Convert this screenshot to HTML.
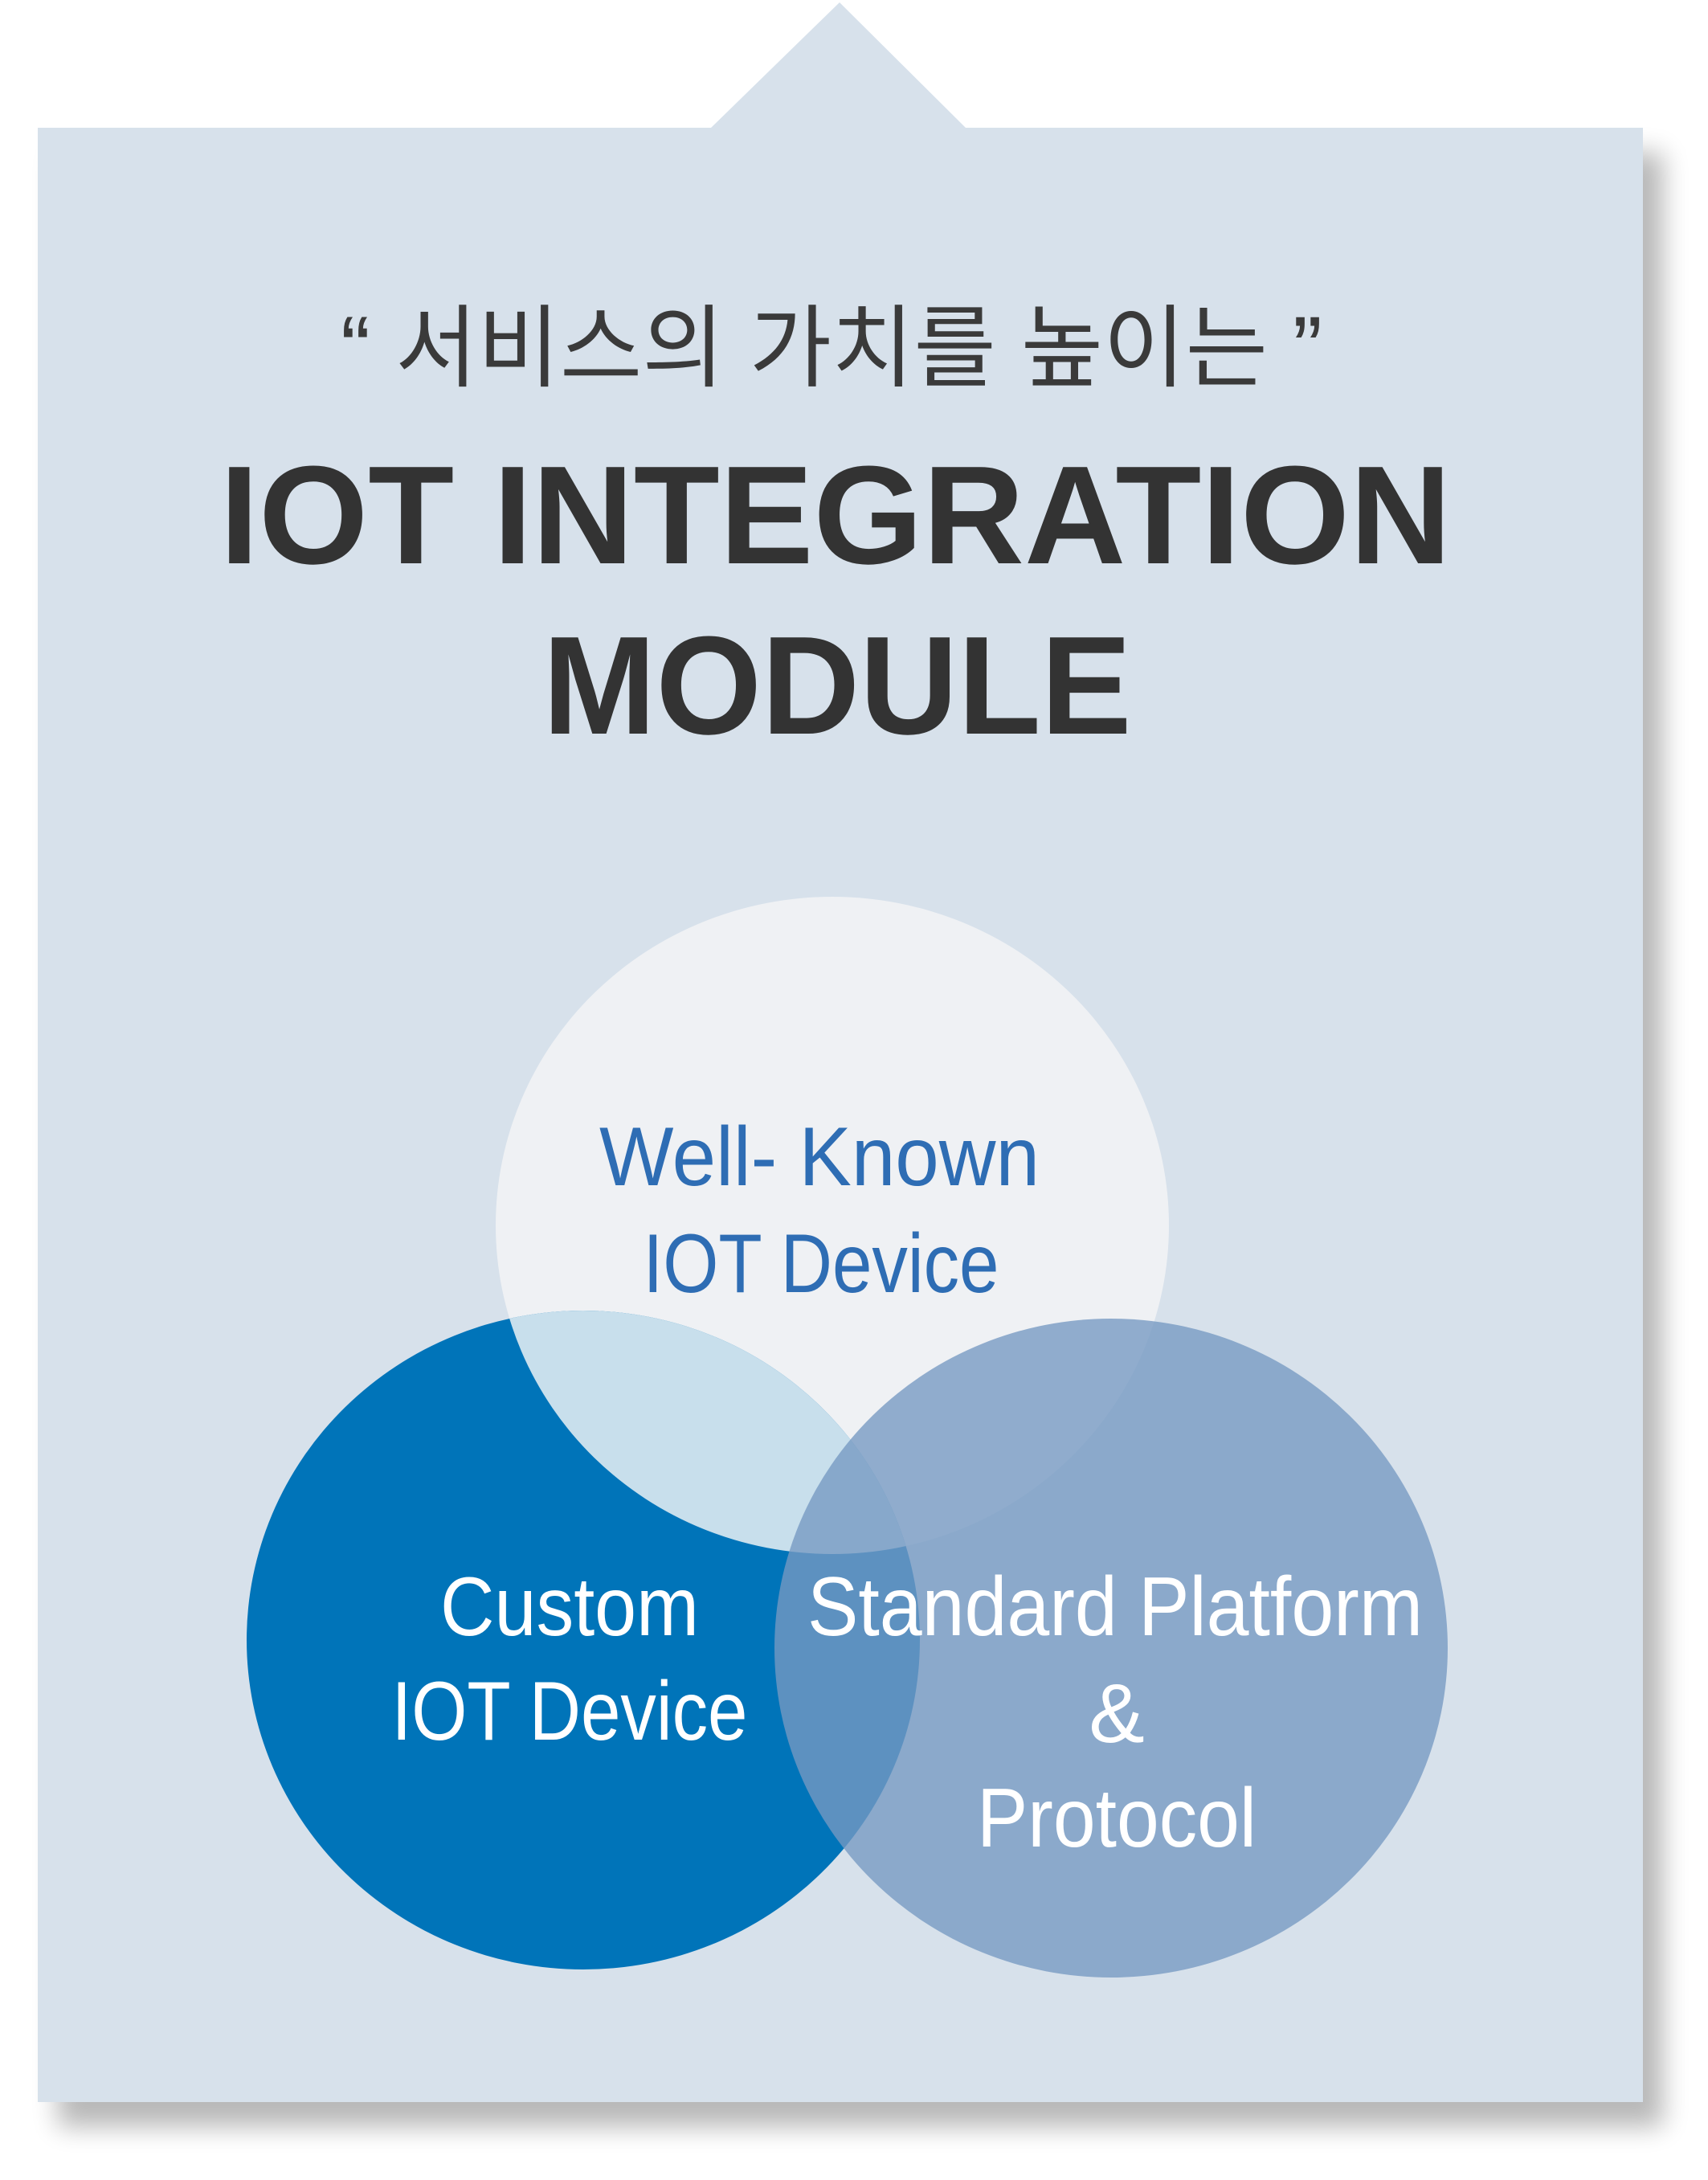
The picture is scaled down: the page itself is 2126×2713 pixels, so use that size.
<!DOCTYPE html>
<html><head><meta charset="utf-8"><style>
html,body{margin:0;padding:0;background:#fff;width:2126px;height:2713px;overflow:hidden}
svg{display:block}
</style></head><body>
<svg width="2126" height="2713" viewBox="0 0 2126 2713" xmlns="http://www.w3.org/2000/svg">
<defs>
<filter id="sh" x="-10%" y="-10%" width="130%" height="130%">
<feGaussianBlur stdDeviation="16"/>
</filter>
<clipPath id="cl"><ellipse cx="726" cy="2041" rx="419" ry="410"/></clipPath>
</defs>
<rect x="72" y="190" width="1998" height="2457" fill="#000" opacity="0.28" filter="url(#sh)"/>
<polygon points="47,159 885,159 1045,3 1202,159 2045,159 2045,2616 47,2616" fill="#d7e1eb"/>
<text x="1035" y="472" text-anchor="middle" font-family="'Liberation Sans','Noto Sans CJK KR',sans-serif" font-size="112" fill="#3a3a3a" textLength="1222" lengthAdjust="spacingAndGlyphs">“ 서비스의 가치를 높이는 ”</text>
<text x="1040" y="701" text-anchor="middle" font-family="'Liberation Sans',sans-serif" font-weight="bold" font-size="174" fill="#333" textLength="1533" lengthAdjust="spacingAndGlyphs">IOT INTEGRATION</text>
<text x="1042" y="913" text-anchor="middle" font-family="'Liberation Sans',sans-serif" font-weight="bold" font-size="174" fill="#333" textLength="733" lengthAdjust="spacingAndGlyphs">MODULE</text>
<ellipse cx="1036" cy="1525" rx="419" ry="409" fill="#eff1f4"/>
<ellipse cx="726" cy="2041" rx="419" ry="410" fill="#0074b9"/>
<ellipse cx="1036" cy="1525" rx="419" ry="409" fill="#c8dfec" clip-path="url(#cl)"/>
<ellipse cx="1383" cy="2051" rx="419" ry="410" fill="rgb(118,153,194)" opacity="0.79"/>
<g font-family="'Liberation Sans',sans-serif" font-size="104" text-anchor="middle">
<text x="1020" y="1475" fill="#2e6db4" textLength="548" lengthAdjust="spacingAndGlyphs">Well- Known</text>
<text x="1022" y="1608" fill="#2e6db4" textLength="443" lengthAdjust="spacingAndGlyphs">IOT Device</text>
<text x="709" y="2035" fill="#fff" textLength="322" lengthAdjust="spacingAndGlyphs">Custom</text>
<text x="709" y="2165" fill="#fff" textLength="443" lengthAdjust="spacingAndGlyphs">IOT Device</text>
<text x="1388" y="2035" fill="#fff" textLength="766" lengthAdjust="spacingAndGlyphs">Standard Platform</text>
<text x="1390" y="2168" fill="#fff">&amp;</text>
<text x="1390" y="2298" fill="#fff" textLength="348" lengthAdjust="spacingAndGlyphs">Protocol</text>
</g>
</svg>
</body></html>
